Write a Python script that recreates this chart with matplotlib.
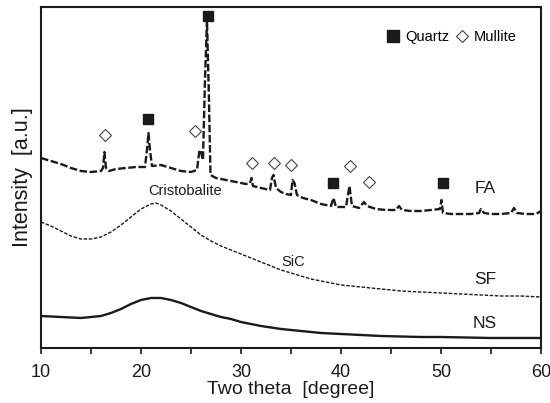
import matplotlib.pyplot as plt
from matplotlib.lines import Line2D

plt.rcParams['font.family'] = ['Liberation Sans', 'DejaVu Sans']

# FA pattern (fly ash): two theta and intensity, sharp crystalline peaks
fa_theta = [10, 11, 12, 13, 14, 15, 16, 16.2, 16.35, 16.5, 16.8, 17.5, 18.5, 19.5,
            20.4, 20.6, 20.75, 20.9, 21.1, 22, 23, 24, 25, 25.6, 25.85, 26.0, 26.2,
            26.4, 26.6, 26.8, 26.95, 27.5, 28.5, 29.5, 30.5, 30.9, 31.05, 31.2, 32,
            32.9, 33.1, 33.25, 33.5, 34, 34.5, 35.0, 35.15, 35.35, 35.6, 36.2, 37, 38,
            39, 39.25, 39.5, 40.5, 40.85, 41.1, 41.8, 42.3, 42.6, 43.5, 44.5, 45.5,
            45.8, 46.1, 47, 48, 49, 49.9, 50.05, 50.2, 51, 52, 53, 53.8, 54.0, 54.3,
            55, 56, 57, 57.3, 57.6, 58.5, 59.5, 60]
fa_int = [190, 187, 184, 180, 177, 176, 177, 180, 196, 180, 177, 179, 180, 181,
          181, 198, 215, 198, 182, 183, 180, 177, 176, 178, 198, 196, 188,
          268, 328, 248, 173, 170, 168, 166, 164, 165, 170, 162, 160,
          158, 170, 173, 160, 156, 154, 153, 168, 165, 153, 150, 148, 144,
          142, 150, 141, 141, 162, 142, 140, 146, 142, 139, 138, 138,
          142, 138, 137, 137, 138, 139, 148, 135, 134, 134, 134, 135, 139, 135,
          134, 134, 135, 140, 135, 134, 134, 137]

# SF pattern (silica fume): broad amorphous hump
sf_theta = [10, 11, 12, 13, 14, 15, 16, 17, 18, 19, 20, 21, 21.5, 22, 23, 24, 25,
            26, 27, 28, 29, 30, 31, 32, 33, 34, 35, 36, 37, 38, 39, 40, 42, 44,
            46, 48, 50, 52, 54, 56, 58, 60]
sf_int = [126, 122, 117, 112, 109, 109, 111, 116, 123, 131, 139, 144, 145, 143,
          137, 129, 121, 113, 107, 102, 98, 94, 90, 86, 82, 78, 75, 72, 69, 67,
          65, 63, 61, 59, 57, 56, 55, 54, 53, 52, 52, 51]

# NS pattern (nano silica)
ns_theta = [10, 12, 14, 16, 17, 18, 19, 20, 21, 22, 23, 24, 25, 26, 27, 28, 29,
            30, 32, 34, 36, 38, 40, 42, 44, 46, 48, 50, 55, 60]
ns_int = [32, 31, 30, 32, 35, 39, 44, 48, 50, 50, 48, 45, 41, 37, 34, 31, 29,
          26, 22, 19, 17, 15, 14, 13, 12, 11.5, 11, 11, 10, 10]

# phase markers on the FA pattern
quartz_theta = [20.7, 26.7, 39.2, 50.2]
quartz_int = [229, 332, 165, 165]
mullite_theta = [16.4, 25.4, 31.1, 33.3, 35.0, 40.9, 42.8]
mullite_int = [213, 217, 185, 185, 183, 182, 166]

col = '#1a1a1a'

fig, ax = plt.subplots(figsize=(5.5, 4.03), dpi=100)
fig.subplots_adjust(left=0.0745, right=0.9836, bottom=0.1365, top=0.9826)

ax.plot(fa_theta, fa_int, color=col, lw=1.7, linestyle=(0, (3.2, 1.1)))
ax.plot(sf_theta, sf_int, color=col, lw=1.0, linestyle=(0, (2.5, 1.2)))
ax.plot(ns_theta, ns_int, color=col, lw=1.7)

ax.plot(quartz_theta, quartz_int, 's', color=col, ms=6.5, ls='none')
ax.plot(mullite_theta, mullite_int, 'D', mfc='white', mec='#444444', mew=0.8,
        ms=6, ls='none')

ax.text(24.4, 157, 'Cristobalite', fontsize=10.5, ha='center', va='center', color=col)
ax.text(35.2, 86, 'SiC', fontsize=10.5, ha='center', va='center', color=col)
ax.text(54.4, 160, 'FA', fontsize=12.5, ha='center', va='center', color=col)
ax.text(54.4, 68, 'SF', fontsize=12.5, ha='center', va='center', color=col)
ax.text(54.4, 24, 'NS', fontsize=12.5, ha='center', va='center', color=col)

handles = [Line2D([], [], marker='s', color=col, ls='none', ms=8),
           Line2D([], [], marker='D', mfc='white', mec='#444444', mew=0.8,
                  ls='none', ms=6)]
ax.legend(handles, ['Quartz', 'Mullite'], ncol=2, frameon=False, fontsize=10.5,
          loc='upper right', bbox_to_anchor=(0.978, 0.97), handlelength=0.8,
          handletextpad=0.4, columnspacing=0.5)

ax.set_xlim(10, 60)
ax.set_ylim(0, 341)
ax.set_xticks([10, 20, 30, 40, 50, 60])
ax.set_xticks([15, 25, 35, 45, 55], minor=True)
ax.set_yticks([])
ax.tick_params(axis='x', which='both', direction='out', length=4, width=1.2,
               labelsize=13, colors=col, pad=7.5)
for s in ax.spines.values():
    s.set_linewidth(1.5)
    s.set_color(col)

ax.set_xlabel('Two theta  [degree]', fontsize=14, color=col, labelpad=0)
ax.set_ylabel('Intensity  [a.u.]', fontsize=15.5, color=col, labelpad=6)

fig.savefig('out.png', dpi=100)
